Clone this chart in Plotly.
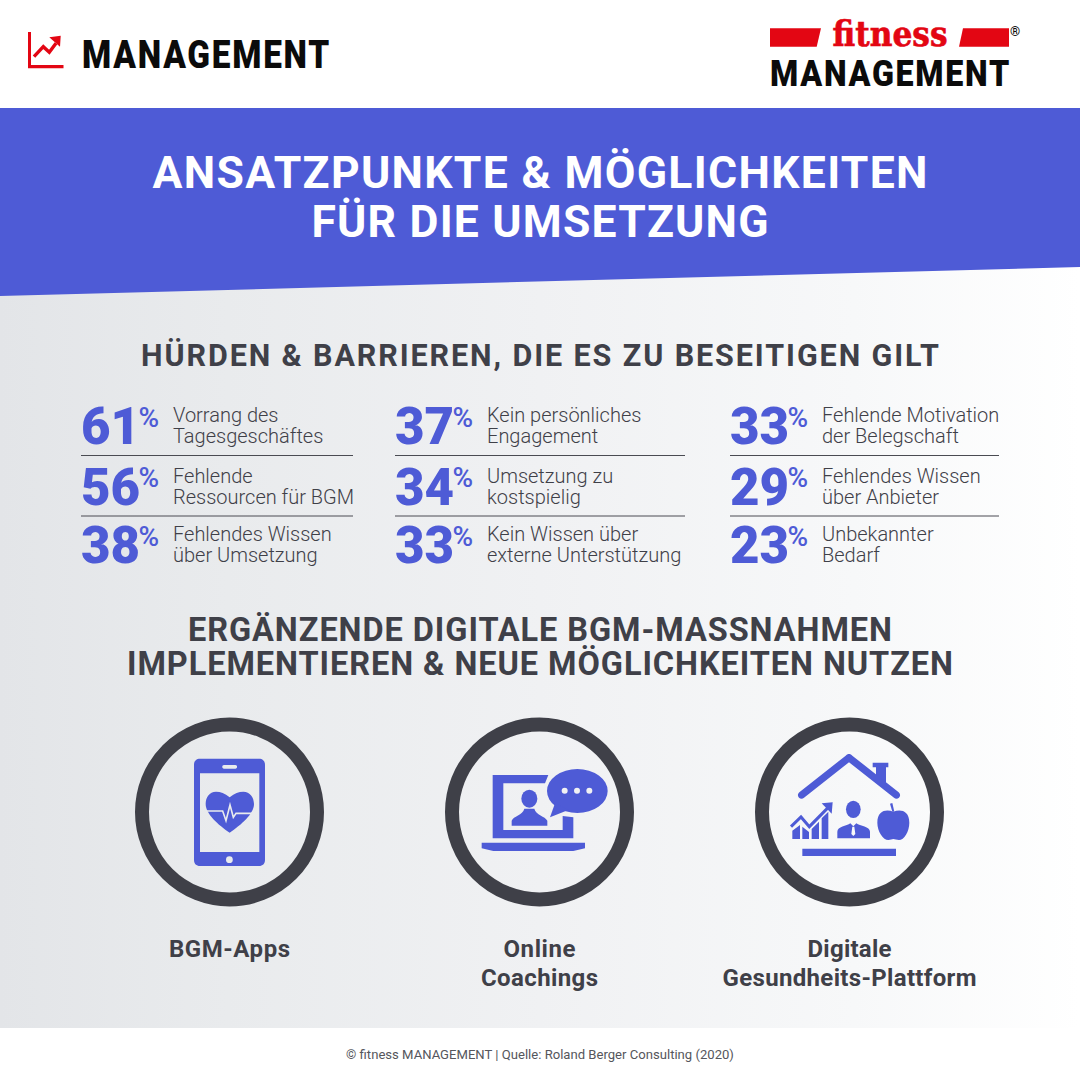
import json
import re
import plotly.graph_objects as go

# ---------------------------------------------------------------------------
# Data
title_lines = ["ANSATZPUNKTE & MÖGLICHKEITEN", "FÜR DIE UMSETZUNG"]
hurdle_heading = "HÜRDEN & BARRIEREN, DIE ES ZU BESEITIGEN GILT"
digital_heading = ["ERGÄNZENDE DIGITALE BGM-MASSNAHMEN", "IMPLEMENTIEREN & NEUE MÖGLICHKEITEN NUTZEN"]

col1_values = [61, 56, 38]
col1_line1 = ["Vorrang des", "Fehlende", "Fehlendes Wissen"]
col1_line2 = ["Tagesgeschäftes", "Ressourcen für BGM", "über Umsetzung"]

col2_values = [37, 34, 33]
col2_line1 = ["Kein persönliches", "Umsetzung zu", "Kein Wissen über"]
col2_line2 = ["Engagement", "kostspielig", "externe Unterstützung"]

col3_values = [33, 29, 23]
col3_line1 = ["Fehlende Motivation", "Fehlendes Wissen", "Unbekannter"]
col3_line2 = ["der Belegschaft", "über Anbieter", "Bedarf"]

caption_line1 = ["BGM-Apps", "Online", "Digitale"]
caption_line2 = ["", "Coachings", "Gesundheits-Plattform"]

source_text = "© fitness MANAGEMENT | Quelle: Roland Berger Consulting (2020)"

# widths of the reference texts, applied after drawing (plotly has no letter spacing)
# text, width, how to fit, extra css
text_fit = [["MANAGEMENT", 249, "spacingAndGlyphs", "letter-spacing:2px"],
            ["fitness", 115, "spacingAndGlyphs", "stroke:#e30613;stroke-width:0.6px"],
            ["MANAGEMENT", 241, "spacingAndGlyphs", "letter-spacing:2px"],
            [title_lines[0], 775, "spacing", ""], [title_lines[1], 457, "spacing", ""],
            [hurdle_heading, 798, "spacing", ""],
            [digital_heading[0], 704, "spacing", ""], [digital_heading[1], 826, "spacing", ""],
            ["BGM-Apps", 121, "spacing", ""], ["Online", 72, "spacing", ""], ["Digitale", 84, "spacing", ""],
            ["Coachings", 117, "spacing", ""], ["Gesundheits-Plattform", 254, "spacing", ""]]

# ---------------------------------------------------------------------------
# Colours and layout helpers
BLUE = "#4e5bd6"
DARK = "#3f4048"
RED = "#e30613"
BLACK = "#0b0b0b"
FONT = "Roboto"

col_left = [81, 395, 730]
col_rule_right = [353, 685, 999]
row_number_y = [427, 487.5, 546]
row_line1_y = [415, 476, 534]
row_line2_y = [436, 497, 555]
rule_y = [455.5, 516]
icon_x = [229.5, 539.5, 849.5]
icon_y = 812

fig = go.Figure()


def add_text(xs, ys, texts, size, color, weight=400, family=FONT, pos="middle center"):
    # plotly sits the text a little above the asked y, push it back by the font size
    ys = [y + 0.09 * size for y in ys]
    fig.add_trace(go.Scatter(x=xs, y=ys, text=texts, mode="text", textposition=pos,
                             textfont=dict(family=family, size=size, color=color, weight=weight),
                             hoverinfo="skip", showlegend=False))


def tr(d, ox, oy, sx=3, sy=3):
    "Convert a path written in zoomed pixels to page pixels"
    return re.sub(r"(-?[\d.]+),(-?[\d.]+)",
                  lambda m: f"{float(m[1]) / sx + ox:.2f},{float(m[2]) / sy + oy:.2f}", d)


def fill_path(d, color=BLUE):
    fig.add_shape(type="path", path=d, fillcolor=color, line=dict(width=0))


def stroke_path(d, color=BLUE, width=2):
    fig.add_shape(type="path", path=d, line=dict(color=color, width=width))


def disc(cx, cy, rx, ry=None, color=BLUE):
    ry = rx if ry is None else ry
    fig.add_shape(type="circle", x0=cx - rx, x1=cx + rx, y0=cy - ry, y1=cy + ry,
                  fillcolor=color, line=dict(width=0))


# ---------------------------------------------------------------------------
# Background
fig.add_trace(go.Scatter(x=[0, 1080, 1080, 0, 0], y=[260, 260, 1028, 1028, 260], mode="lines",
                         fill="toself", line=dict(width=0), hoverinfo="skip", showlegend=False,
                         fillgradient=dict(type="horizontal",
                                           colorscale=[[0, "#e3e5e8"], [0.21, "#e9ebed"],
                                                       [0.5, "#f0f1f3"], [0.79, "#f7f8f9"],
                                                       [1, "#ffffff"]])))
fig.add_trace(go.Scatter(x=[0, 1080, 1080, 0, 0], y=[108, 108, 267, 296, 108], mode="lines",
                         fill="toself", fillcolor=BLUE, line=dict(width=0),
                         hoverinfo="skip", showlegend=False))

# ---------------------------------------------------------------------------
# Header: left chart mark and logo
fill_path("M28,32 L31,32 L31,65 L63.5,65 L63.5,68.3 L28,68.3 Z", RED)
stroke_path("M34,56.7 L43.3,46.7 L49.3,52.3 L56,43.3", RED, 3.4)
fill_path("M49.3,37.3 L60.7,35.7 L60,46.7 Z", RED)
add_text([82], [55.5], ["MANAGEMENT"], 38, BLACK, 900, FONT, "middle right")

fill_path("M770,28.3 L821,28.3 L816.7,46.7 L770,46.7 Z", RED)
fill_path("M963,28.3 L1009,28.3 L1009,46.7 L959,46.7 Z", RED)
add_text([890], [33.5], ["fitness"], 36, RED, 700, "DejaVu Serif Condensed")
add_text([1015], [32], ["®"], 13, BLACK, 700)
add_text([770], [73.5], ["MANAGEMENT"], 37.5, BLACK, 900, FONT, "middle right")

# ---------------------------------------------------------------------------
# Title and headings
add_text([540, 540], [173, 222], title_lines, 44.5, "#ffffff", 700)
add_text([540], [356], [hurdle_heading], 30.5, DARK, 700)
add_text([540, 540], [630, 664], digital_heading, 32.5, DARK, 700)

# ---------------------------------------------------------------------------
# Percent columns
columns = [(col1_values, col1_line1, col1_line2),
           (col2_values, col2_line1, col2_line2),
           (col3_values, col3_line1, col3_line2)]
for left, rule_right, (values, line1, line2) in zip(col_left, col_rule_right, columns):
    add_text([left] * 3, row_number_y, [str(v) for v in values], 51, BLUE, 900, pos="middle right")
    add_text([left + 57.5] * 3, [y - 10 for y in row_number_y], ["%"] * 3, 28, BLUE, 500, pos="middle right")
    add_text([left + 92] * 3, row_line1_y, line1, 20, DARK, 300, pos="middle right")
    add_text([left + 92] * 3, row_line2_y, line2, 20, DARK, 300, pos="middle right")
    for y in rule_y:
        fig.add_shape(type="line", x0=left, x1=rule_right, y0=y, y1=y,
                      line=dict(color="#4a4b52", width=1))

# ---------------------------------------------------------------------------
# Icons: rings
for cx in icon_x:
    fig.add_shape(type="circle", x0=cx - 87.5, x1=cx + 87.5, y0=icon_y - 87.5, y1=icon_y + 87.5,
                  line=dict(color=DARK, width=14))

# Phone
ox, oy = 120, 710
fill_path(tr("M240,146 L417,146 C428,146 435,153 435,164 L435,450 C435,461 428,468 417,468 L240,468 "
             "C229,468 222,461 222,450 L222,164 C222,153 229,146 240,146 Z "
             "M240,190 L240,426 L418,426 L418,190 Z "
             "M312,165 L346,165 C353,165 353,176 346,176 L312,176 C305,176 305,165 312,165 Z", ox, oy))
disc(229.4, 859.7, 3.4, color="#e9ebed")
fill_path(tr("M329,262 C314,250 302,245 288,245 C268,245 257,262 257,282 C257,312 295,345 329,368 "
             "C363,345 402,312 402,282 C402,262 390,245 370,245 C356,245 344,250 329,262 Z", ox, oy))
stroke_path(tr("M258,303 L308,303 L318,332 L330,285 L340,322 L348,310 L398,310", ox, oy), "#e9ebed", 1.6)

# Laptop with speech bubble
ox, oy = 430, 710
fill_path(tr("M188,195 L355,195 L345,220 L220,220 L220,360 L398,360 L398,318 L430,322 L430,385 "
             "L188,385 Z", ox, oy))
fill_path(tr("M155,398 L465,398 L465,415 L430,423 L190,423 L155,415 Z", ox, oy))
disc(298 / 3 + ox, 266 / 3 + oy, 24 / 3, 27 / 3)
fill_path(tr("M245,347 L352,347 L352,332 C345,318 318,316 313,296 L283,296 C278,316 250,318 245,332 Z",
             ox, oy))
disc(442 / 3 + ox, 243 / 3 + oy, 91 / 3, 66 / 3)
fill_path(tr("M375,280 L360,322 L415,300 Z", ox, oy))
for dot_x in (404, 441, 478):
    disc(dot_x / 3 + ox, 242 / 3 + oy, 3, color="#f0f1f3")

# House
ox, oy = 740, 710
fill_path(tr("M408,172 L398,172 L398,158 L445,158 L445,172 L438,172 L438,225 L408,200 Z", ox, oy))
fill_path(tr("M327,132 C331,132 334,134 337,137 L476,247 C488,258 472,272 462,263 L327,157 L192,263 "
             "C182,272 166,258 178,247 L317,137 C320,134 323,132 327,132 Z", ox, oy))
fill_path(tr("M187,416 L468,416 L468,438 L187,438 Z", ox, oy))
fill_path(tr("M157,362 L180,345 L180,387 L157,387 Z M187,350 L207,366 L207,387 L187,387 Z "
             "M215,357 L237,335 L237,387 L215,387 Z M245,325 L265,305 L265,387 L245,387 Z", ox, oy))
stroke_path(tr("M153,350 L183,321 L208,350 L265,292", ox, oy), BLUE, 3)
fill_path(tr("M245,280 L278,277 L275,311 Z", ox, oy))
disc(340 / 3 + ox, 298 / 3 + oy, 22 / 3, 26 / 3)
fill_path(tr("M292,385 L292,365 C292,350 320,348 331,340 L340,349 L349,340 C360,348 390,350 390,365 "
             "L390,385 Z M337,350 L343,350 L346,372 L340,378 L334,372 Z", ox, oy))
fill_path(tr("M460,305 C440,297 412,300 412,338 C412,365 430,390 445,390 C452,390 455,387 460,387 "
             "C465,387 470,390 477,390 C492,390 508,365 508,338 C508,300 480,297 460,305 Z", ox, oy))
fill_path(tr("M450,281 L457,279 L463,305 L457,305 Z", ox, oy))

# ---------------------------------------------------------------------------
# Captions and source
add_text(icon_x, [949] * 3, caption_line1, 24, DARK, 700)
add_text(icon_x, [978] * 3, caption_line2, 24, DARK, 700)
add_text([540], [1055], [source_text], 13.1, "#55565c", 400)

fig.update_layout(width=1080, height=1080, margin=dict(l=0, r=0, t=0, b=0),
                  paper_bgcolor="#ffffff", plot_bgcolor="rgba(0,0,0,0)", showlegend=False,
                  xaxis=dict(range=[0, 1080], visible=False, fixedrange=True),
                  yaxis=dict(range=[1080, 0], visible=False, fixedrange=True))

fit_script = """
document.body.style.margin = '0';
document.body.style.overflow = 'hidden';
var fits = %s;
var nodes = Array.from(document.querySelectorAll('.textpoint text'));
fits.forEach(function (f) {
  var i = nodes.findIndex(function (n) { return n.textContent === f[0]; });
  if (i < 0) return;
  nodes[i].setAttribute('textLength', f[1]);
  nodes[i].setAttribute('lengthAdjust', f[2]);
  if (f[3]) nodes[i].style.cssText += ';' + f[3];
  nodes.splice(i, 1);
});
""" % json.dumps(text_fit)

fig.write_html("out.html", config={"displayModeBar": False}, post_script=fit_script)
